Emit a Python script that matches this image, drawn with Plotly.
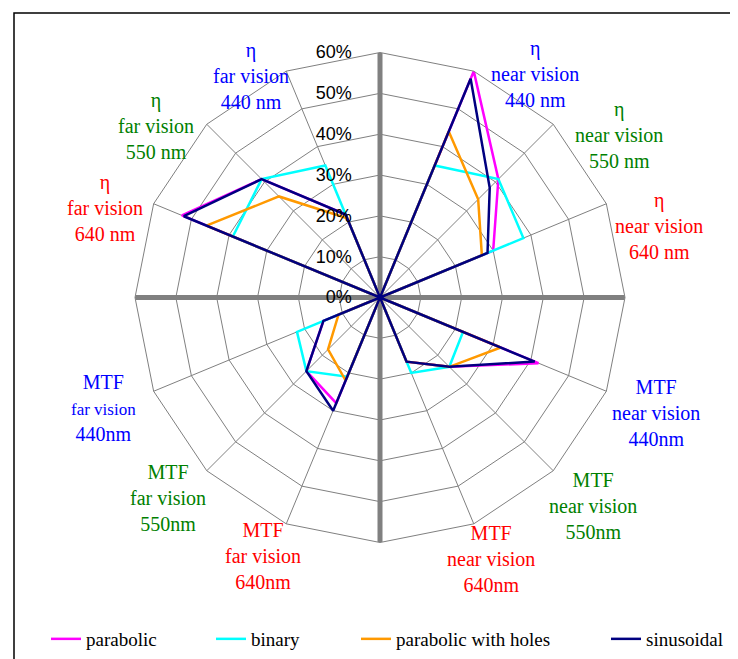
import plotly.graph_objects as go

# 16 spokes: the four on the cross are empty (all series at 0)
categories = [
    "top",
    "η<br>near vision<br>440 nm",
    "η<br>near vision<br>550 nm",
    "η<br>near vision<br>640 nm",
    "right",
    "MTF<br>near vision<br>440nm",
    "MTF<br>near vision<br>550nm",
    "MTF<br>near vision<br>640nm",
    "bottom",
    "MTF<br>far vision<br>640nm",
    "MTF<br>far vision<br>550nm",
    "MTF<br><span style='font-size:17px'>far vision</span><br>440nm",
    "left",
    "η<br>far vision<br>640 nm",
    "η<br>far vision<br>550 nm",
    "η<br>far vision<br>440 nm",
]
label_colors = ["", "#0000FF", "#008000", "#FF0000", "", "#0000FF", "#008000", "#FF0000",
                "", "#FF0000", "#008000", "#0000FF", "", "#FF0000", "#008000", "#0000FF"]

parabolic = [0, 60, 41, 30, 0, 42, 24, 17, 0, 28, 25.5, 15, 0, 52.5, 41, 22]
binary = [0, 35, 41, 38, 0, 22, 24, 20, 0, 21, 25.5, 22, 0, 39, 41, 35]
parabolic_holes = [0, 44, 34, 27, 0, 32, 24, 17, 0, 22, 18, 11, 0, 46, 35, 21]
sinusoidal = [0, 58, 38, 28.5, 0, 41, 24, 17, 0, 30, 25.5, 15, 0, 52, 41, 22]

cross_r = [60, 0, 60, None, 60, 0, 60]
cross_theta = ["top", "top", "bottom", None, "right", "right", "left"]

# label centres in pixels (x, y from top), one per category
label_pos = [None, (527, 66), (611, 127), (651, 218), None, (648, 405), (585, 498), (483, 551),
             None, (255, 548), (160, 490), (95, 400), None, (97, 200), (148, 118), (243, 68)]

W, H = 738, 659
cx, cy, R = 372, 289.5, 245

series = [
    ("parabolic", parabolic, "#FF00FF", 38),
    ("binary", binary, "#00FFFF", 203),
    ("parabolic with holes", parabolic_holes, "#FF9900", 348),
    ("sinusoidal", sinusoidal, "#000080", 598),
]

fig = go.Figure()
fig.add_trace(go.Scatterpolar(r=cross_r, theta=cross_theta, mode="lines",
                              line=dict(color="#808080", width=5),
                              showlegend=False, hoverinfo="skip", connectgaps=False))

legends = {}
for i, (name, vals, color, lx) in enumerate(series):
    key = "legend" if i == 0 else f"legend{i + 1}"
    fig.add_trace(go.Scatterpolar(
        r=vals + vals[:1], theta=categories + categories[:1], mode="lines", name=name,
        line=dict(color=color, width=2.5), legend=key,
    ))
    legends[key] = dict(orientation="h", x=lx / W, y=1 - 631 / H, xanchor="left", yanchor="middle",
                        font=dict(family="Liberation Serif", size=19, color="black"),
                        bgcolor="rgba(0,0,0,0)")

annotations = []
for cat, col, pos in zip(categories, label_colors, label_pos):
    if pos is None:
        continue
    annotations.append(dict(
        x=pos[0] / W, y=1 - pos[1] / H, xref="paper", yref="paper",
        text=cat, showarrow=False, xanchor="center", yanchor="middle",
        font=dict(family="Liberation Serif", size=20, color=col),
    ))

fig.update_layout(
    width=W, height=H,
    margin=dict(l=0, r=0, t=0, b=0),
    paper_bgcolor="white",
    polar=dict(
        domain=dict(x=[(cx - R) / W, (cx + R) / W], y=[1 - (cy + R) / H, 1 - (cy - R) / H]),
        bgcolor="white",
        gridshape="linear",
        angularaxis=dict(
            type="category", categoryarray=categories, direction="clockwise", rotation=90,
            showticklabels=False, ticks="", showline=True, linecolor="#808080", linewidth=1,
            gridcolor="#808080", gridwidth=1,
        ),
        radialaxis=dict(
            range=[0, 60], dtick=10, ticksuffix="%" + "\u00a0" * 5, angle=90, tickangle=90,
            side="counterclockwise", showline=False, ticks="",
            gridcolor="#808080", gridwidth=1,
            tickfont=dict(family="Liberation Sans", size=18, color="black"),
        ),
    ),
    annotations=annotations,
    shapes=[dict(type="rect", xref="paper", yref="paper", x0=6 / W, x1=1.02,
                 y0=-0.05, y1=1 - 5 / H, line=dict(color="black", width=1.5))],
    **legends,
)

fig.write_html("out.html")
